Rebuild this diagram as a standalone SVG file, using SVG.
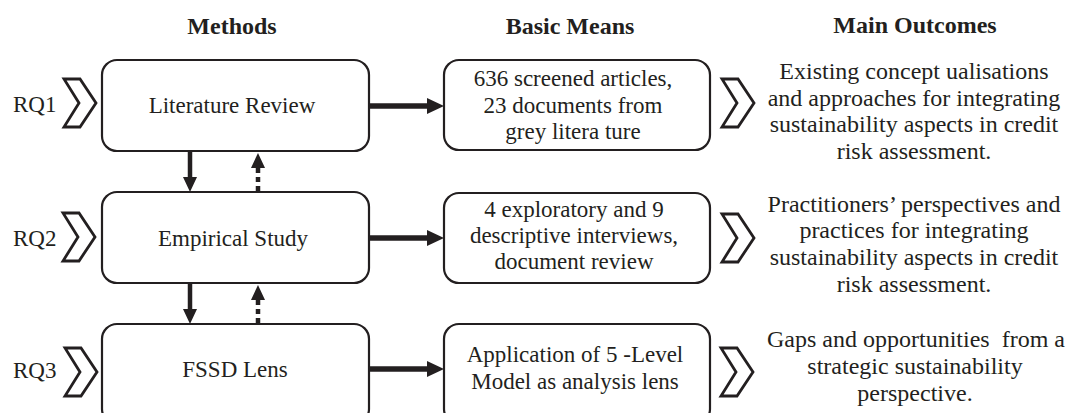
<svg xmlns="http://www.w3.org/2000/svg" width="1069" height="413" viewBox="0 0 1069 413">
<style>
text{font-family:"Liberation Serif","DejaVu Serif",serif;fill:#231f20}
.h{font-weight:bold;font-size:24px;text-anchor:middle}
.b{font-size:23px;text-anchor:middle}
.o{font-size:24px;text-anchor:middle}
.rq{font-size:23px}
.box{fill:#fff;stroke:#231f20;stroke-width:2.2}
.chev{fill:#fff;stroke:#231f20;stroke-width:2.8;stroke-linejoin:miter}
.arr{stroke:#231f20;fill:none}
</style>
<defs>
<marker id="ahH" markerUnits="userSpaceOnUse" markerWidth="17" markerHeight="16" refX="3" refY="8" orient="auto" overflow="visible">
<path d="M0,0 L17,8 L0,16 Z" fill="#231f20"/>
</marker>
<marker id="ahV" markerUnits="userSpaceOnUse" markerWidth="15" markerHeight="14" refX="2" refY="7" orient="auto" overflow="visible">
<path d="M0,0 L15,7 L0,14 Z" fill="#231f20"/>
</marker>
<path id="chv" d="M0,0 L16,0 L32,24 L16,48 L0,48 L15,24 Z"/>
</defs>
<rect width="1069" height="413" fill="#fff"/>

<g id="headers">
<text class="h" x="232" y="34">Methods</text>
<text class="h" x="570" y="34">Basic Means</text>
<text class="h" x="915" y="33">Main Outcomes</text>
</g>

<g id="rq1">
<text class="rq" x="13" y="112">RQ1</text>
<use href="#chv" class="chev" x="64" y="79"/>
</g>
<g id="rq2">
<text class="rq" x="13" y="246">RQ2</text>
<use href="#chv" class="chev" x="63" y="213"/>
</g>
<g id="rq3">
<text class="rq" x="13" y="378">RQ3</text>
<use href="#chv" class="chev" x="65" y="348"/>
</g>

<g id="literature-review">
<rect class="box" x="102" y="60" width="267" height="91" rx="15"/>
<text class="b" x="232" y="113">Literature Review</text>
</g>
<g id="empirical-study">
<rect class="box" x="102" y="192" width="267" height="91" rx="15"/>
<text class="b" x="233" y="245.5">Empirical Study</text>
</g>
<g id="fssd-lens">
<rect class="box" x="102" y="324" width="267" height="100" rx="15"/>
<text class="b" x="235" y="377">FSSD Lens</text>
</g>

<g id="means1">
<rect class="box" x="444" y="60" width="266" height="90" rx="15"/>
<text class="b" x="573" y="86">636 screened articles,</text>
<text class="b" x="573" y="112.7">23 documents from</text>
<text class="b" x="573" y="139.3">grey litera ture</text>
</g>
<g id="means2">
<rect class="box" x="444" y="193" width="266" height="90" rx="15"/>
<text class="b" x="574" y="216.7">4 exploratory and 9</text>
<text class="b" x="574" y="243">descriptive interviews,</text>
<text class="b" x="574" y="269.3">document review</text>
</g>
<g id="means3">
<rect class="box" x="444" y="324" width="266" height="100" rx="15"/>
<text class="b" x="575" y="361.7">Application of 5 -Level</text>
<text class="b" x="575" y="389">Model as analysis lens</text>
</g>

<g id="outcome1">
<use href="#chv" class="chev" x="722" y="79"/>
<text class="o" x="914" y="79">Existing concept ualisations</text>
<text class="o" x="914" y="105.7">and approaches for integrating</text>
<text class="o" x="914" y="132.3">sustainability aspects in credit</text>
<text class="o" x="914" y="159">risk assessment.</text>
</g>
<g id="outcome2">
<use href="#chv" class="chev" x="722" y="214"/>
<text class="o" x="914" y="211.7">Practitioners’ perspectives and</text>
<text class="o" x="914" y="238.3">practices for integrating</text>
<text class="o" x="914" y="265">sustainability aspects in credit</text>
<text class="o" x="914" y="291.7">risk assessment.</text>
</g>
<g id="outcome3">
<use href="#chv" class="chev" x="721" y="348"/>
<text class="o" x="916" y="346.7" style="white-space:pre">Gaps and opportunities  from a</text>
<text class="o" x="915" y="374">strategic sustainability</text>
<text class="o" x="915" y="400.7">perspective.</text>
</g>

<g id="connectors">
<line class="arr" x1="369" y1="106" x2="430" y2="106" stroke-width="5.5" marker-end="url(#ahH)"/>
<line class="arr" x1="369" y1="238" x2="430" y2="238" stroke-width="5.5" marker-end="url(#ahH)"/>
<line class="arr" x1="369" y1="369" x2="430" y2="369" stroke-width="5.5" marker-end="url(#ahH)"/>
<line class="arr" x1="190" y1="152" x2="190" y2="179" stroke-width="4.5" marker-end="url(#ahV)"/>
<line class="arr" x1="258" y1="191" x2="258" y2="166" stroke-width="4.5" stroke-dasharray="5,4" marker-end="url(#ahV)"/>
<line class="arr" x1="190" y1="284" x2="190" y2="311" stroke-width="4.5" marker-end="url(#ahV)"/>
<line class="arr" x1="258" y1="323" x2="258" y2="298" stroke-width="4.5" stroke-dasharray="5,4" marker-end="url(#ahV)"/>
</g>
</svg>
